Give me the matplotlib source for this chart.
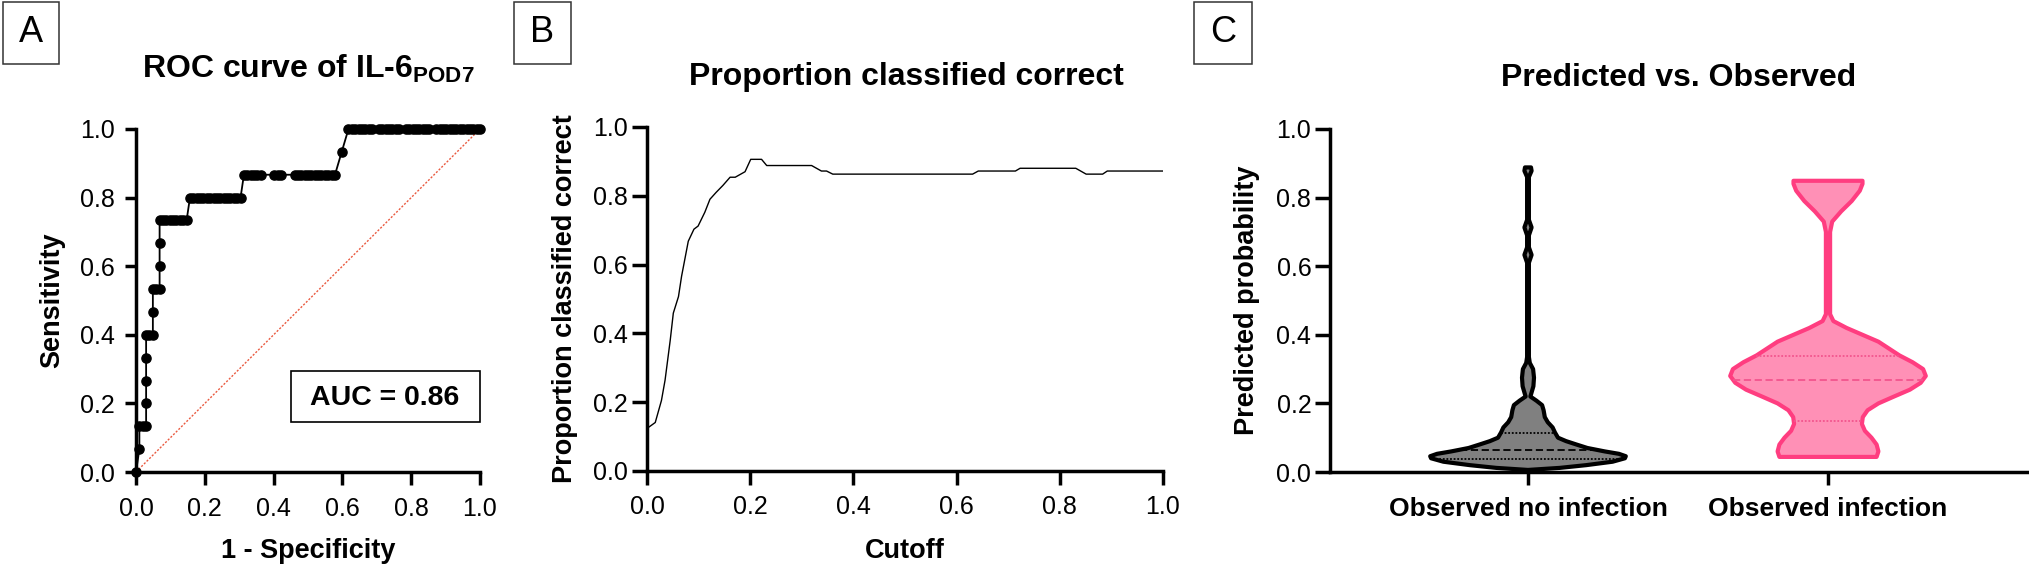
import numpy as np
import matplotlib
matplotlib.use("Agg")
import matplotlib.pyplot as plt
from matplotlib.patches import Rectangle

# ---- A: ROC curve of IL-6 (false positives at each level of true positives) ----
n_negative = 102
n_positive = 15
roc_fp_by_tp = [
    [0],
    [1],
    [1, 2, 3],
    [3],
    [3],
    [3],
    [3, 4, 5],
    [5],
    [5, 6, 7],
    [7],
    [7],
    [7, 8, 9, 10, 11, 12, 13, 14, 15],
    [16, 17, 18, 19, 20, 21, 22, 23, 24, 25, 26, 27, 28, 29, 30, 31],
    [32, 33, 34, 35, 36, 37, 41, 42, 43, 47, 48, 49, 50, 51, 52, 53, 54, 55, 56, 57, 58, 59],
    [61],
    [63, 64, 65, 66, 67, 68, 69, 70, 72, 73, 74, 75, 76, 77, 78, 80, 81, 82, 83, 84, 85, 86, 87,
     89, 90, 91, 92, 93, 94, 95, 96, 97, 98, 99, 100, 101, 102],
]
auc_value = 0.86

# ---- B: proportion classified correct vs cutoff ----
cutoff = [0.0, 0.004, 0.016, 0.028, 0.035, 0.045, 0.051, 0.061, 0.067, 0.08, 0.091, 0.099,
          0.112, 0.122, 0.134, 0.147, 0.161, 0.171, 0.19, 0.201, 0.222, 0.232, 0.319, 0.338,
          0.348, 0.36, 0.631, 0.642, 0.714, 0.723, 0.831, 0.851, 0.883, 0.892, 1.0]
prop_correct = [0.128, 0.128, 0.141, 0.205, 0.264, 0.38, 0.459, 0.507, 0.566, 0.668, 0.703, 0.712,
                0.752, 0.79, 0.81, 0.83, 0.854, 0.854, 0.87, 0.906, 0.906, 0.888, 0.888, 0.872,
                0.872, 0.863, 0.863, 0.872, 0.872, 0.88, 0.88, 0.863, 0.863, 0.872, 0.872]

# ---- C: violin profiles of predicted probability ----
groups = ["Observed no infection", "Observed infection"]
no_inf_level = [0.006, 0.012, 0.02, 0.03, 0.04, 0.046, 0.053, 0.06, 0.07, 0.08, 0.09, 0.10,
                0.115, 0.13, 0.145, 0.16, 0.18, 0.195, 0.208, 0.22, 0.232, 0.25, 0.275, 0.30,
                0.318, 0.335, 0.61, 0.633, 0.655, 0.69, 0.713, 0.735, 0.86, 0.878, 0.888]
no_inf_width = [0.0, 0.106, 0.194, 0.282, 0.323, 0.326, 0.303, 0.256, 0.198, 0.162, 0.127, 0.1,
                0.09, 0.082, 0.066, 0.056, 0.052, 0.047, 0.028, 0.008, 0.012, 0.018, 0.02, 0.017,
                0.006, 0.003, 0.003, 0.012, 0.003, 0.003, 0.012, 0.003, 0.003, 0.012, 0.01]
no_inf_quartiles = [0.039, 0.065, 0.113]
inf_level = [0.044, 0.06, 0.08, 0.10, 0.12, 0.14, 0.16, 0.18, 0.20, 0.22, 0.24, 0.26, 0.28,
             0.30, 0.32, 0.34, 0.36, 0.38, 0.40, 0.42, 0.44, 0.46, 0.70, 0.73, 0.76, 0.79,
             0.82, 0.84, 0.849]
inf_width = [0.162, 0.168, 0.162, 0.145, 0.123, 0.113, 0.116, 0.132, 0.168, 0.22, 0.273, 0.309,
             0.326, 0.317, 0.282, 0.238, 0.203, 0.168, 0.115, 0.062, 0.018, 0.007, 0.007, 0.014,
             0.044, 0.079, 0.106, 0.115, 0.115]
inf_quartiles = [0.149, 0.268, 0.339]

plt.rcParams["font.family"] = ["Liberation Sans", "DejaVu Sans"]
plt.rcParams["mathtext.fontset"] = "custom"
plt.rcParams["mathtext.rm"] = "Liberation Sans"
plt.rcParams["mathtext.bf"] = "Liberation Sans:bold"

W, H = 2029, 566
fig = plt.figure(figsize=(W / 100, H / 100), dpi=100)


def px_axes(x0, x1, y0, y1):
    return fig.add_axes([x0 / W, 1 - y1 / H, (x1 - x0) / W, (y1 - y0) / H])


def style(ax):
    for s in ("top", "right"):
        ax.spines[s].set_visible(False)
    for s in ("left", "bottom"):
        ax.spines[s].set_linewidth(2.5)
    ax.tick_params(width=2.5, labelsize=18)


def panel_letter(x0, x1, letter):
    fig.patches.append(Rectangle((x0 / W, 1 - 64 / H), (x1 - x0) / W, 62 / H,
                                 transform=fig.transFigure, fill=False, ec="#333333", lw=1.1))
    fig.text((x0 + x1) / 2 / W, 1 - 33 / H, letter, ha="center", va="center", fontsize=26)


def unit_ticks(ax, axis="both"):
    ticks = [0.0, 0.2, 0.4, 0.6, 0.8, 1.0]
    labels = [f"{t:.1f}" for t in ticks]
    if axis in ("both", "x"):
        ax.set_xticks(ticks, labels)
    if axis in ("both", "y"):
        ax.set_yticks(ticks, labels)


# Panel A
axA = px_axes(136, 480, 129, 472)
style(axA)
fpr, tpr = [], []
for tp, fps in enumerate(roc_fp_by_tp):
    for fp in fps:
        fpr.append(fp / n_negative)
        tpr.append(tp / n_positive)
axA.plot([0, 1], [0, 1], color="#EA5A40", lw=1.0, ls=(0, (1.5, 1.2)), zorder=1)
axA.plot(fpr, tpr, color="black", lw=1.3, marker="o", ms=6.6, clip_on=False, zorder=3)
axA.set_xlim(0, 1)
axA.set_ylim(0, 1)
unit_ticks(axA)
axA.tick_params(axis="x", length=9, pad=9)
axA.tick_params(axis="y", length=8, pad=7)
axA.set_xlabel("1 - Specificity", fontsize=19.5, fontweight="bold")
axA.xaxis.set_label_coords(0.5, (472 - 558) / 343)
axA.xaxis.label.set_va("baseline")
axA.set_ylabel("Sensitivity", fontsize=19.5, fontweight="bold")
axA.yaxis.set_label_coords((52 - 136) / 344, 0.5)
axA.yaxis.label.set_va("center")
axA.add_patch(Rectangle((0.451, 0.146), 0.549, 0.148, transform=axA.transData,
                        fill=False, ec="black", lw=1.2, clip_on=False))
axA.text(0.724, 0.215, f"AUC = {auc_value:.2f}", ha="center", va="center",
         fontsize=20.5, fontweight="bold")
fig.text(308 / W, 1 - 78 / H, r"ROC curve of IL-6$_{\mathbf{POD7}}$", ha="center",
         va="baseline", fontsize=23, fontweight="bold")
panel_letter(3, 59, "A")

# Panel B
axB = px_axes(647, 1163, 127, 471)
style(axB)
axB.plot(cutoff, prop_correct, color="black", lw=1.0)
axB.set_xlim(0, 1)
axB.set_ylim(0, 1)
unit_ticks(axB)
axB.tick_params(axis="x", length=10, pad=7)
axB.tick_params(axis="y", length=11, pad=2.5)
axB.set_xlabel("Cutoff", fontsize=19.5, fontweight="bold")
axB.xaxis.set_label_coords(0.5, (471 - 558) / 344)
axB.xaxis.label.set_va("baseline")
axB.set_ylabel("Proportion classified correct", fontsize=19.5, fontweight="bold")
axB.yaxis.set_label_coords((565 - 647) / 516, 0.5)
axB.yaxis.label.set_va("center")
fig.text(906 / W, 1 - 85 / H, "Proportion classified correct", ha="center",
         va="baseline", fontsize=23, fontweight="bold")
panel_letter(514, 571, "B")

# Panel C
axC = px_axes(1330, 2029, 129, 472)
style(axC)
profiles = [
    (no_inf_level, no_inf_width, no_inf_quartiles, "#808080", "black", "black"),
    (inf_level, inf_width, inf_quartiles, "#FF90B6", "#FF3D80", "#F2558E"),
]
for pos, (lv, hw, qs, fc, ec, qc) in enumerate(profiles):
    lv = np.asarray(lv)
    hw = np.asarray(hw)
    xs = np.concatenate([pos - hw, (pos + hw)[::-1]])
    ys = np.concatenate([lv, lv[::-1]])
    axC.fill(xs, ys, facecolor=fc, edgecolor=ec, lw=3.0, joinstyle="round", zorder=2)
    for i, q in enumerate(qs):
        w = np.interp(q, lv, hw)
        ls = (0, (4, 2)) if i == 1 else (0, (1, 1))
        axC.plot([pos - w, pos + w], [q, q], color=qc, lw=1.3, ls=ls, zorder=3)
axC.set_xlim(-0.66, 1.67)
axC.set_ylim(0, 1)
unit_ticks(axC, "y")
axC.set_xticks([0, 1], groups, fontsize=19, fontweight="bold")
axC.tick_params(axis="x", length=9, pad=9)
axC.tick_params(axis="y", length=11, pad=2.5)
axC.set_ylabel("Predicted probability", fontsize=19.5, fontweight="bold")
axC.yaxis.set_label_coords((1247 - 1330) / 699, 0.5)
axC.yaxis.label.set_va("center")
fig.text(1679 / W, 1 - 86 / H, "Predicted vs. Observed", ha="center",
         va="baseline", fontsize=23, fontweight="bold")
panel_letter(1194, 1252, "C")

fig.savefig("out.png", dpi=100)
